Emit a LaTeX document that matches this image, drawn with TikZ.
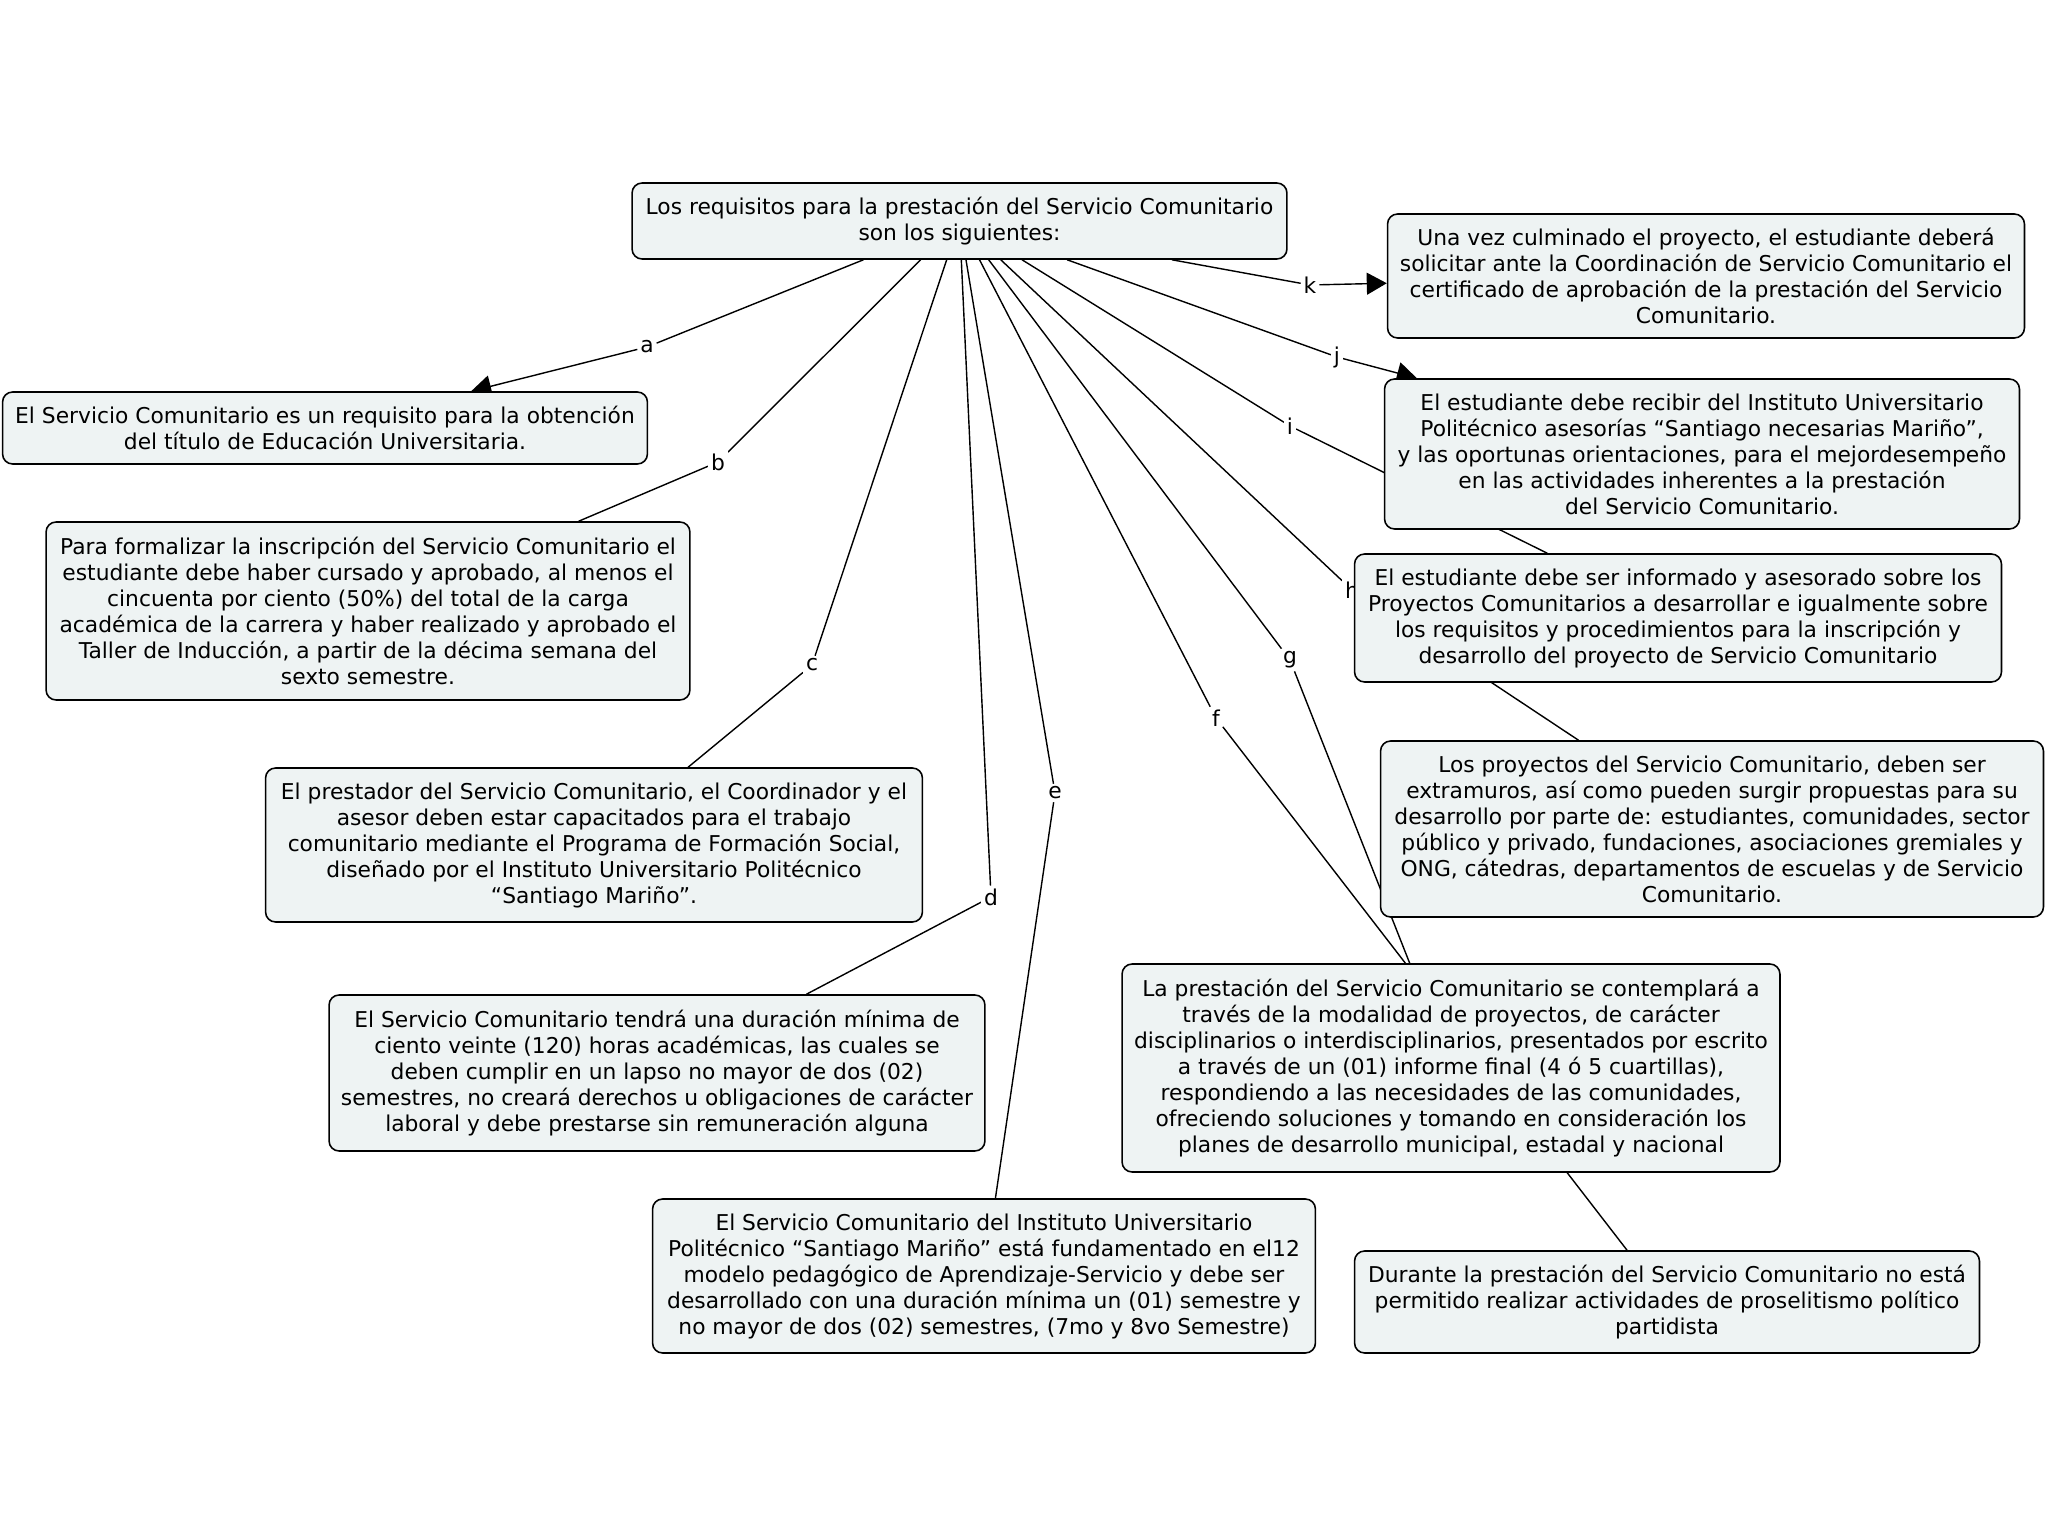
\documentclass[tikz,border=0pt]{standalone}
\usepackage{fontspec}
\setmainfont{DejaVu Sans}
\usepackage{xcolor}
\usepackage{tikz}
\usetikzlibrary{arrows.meta}
\pgfdeclarelayer{edgelayer}
\pgfsetlayers{edgelayer,main}
\definecolor{boxfill}{RGB}{238,243,243}
\tikzset{
  box/.style={draw=black, fill=boxfill, rounded corners=0.2cm, line width=0.9pt,
    align=center, inner sep=2pt, font=\fontsize{12.4pt}{14.8pt}\selectfont},
  lbl/.style={fill=white, inner sep=1.5pt, font=\fontsize{12.4pt}{14.8pt}\selectfont},
  link/.style={line width=0.8pt},
  arr/.style={line width=0.8pt, -{Triangle[length=0.4cm, width=0.44cm]}}
}

\begin{document}
\begin{tikzpicture}[x=0.02cm, y=-0.02cm]
            % labels first, so the boxes can hide them
            \node[lbl] (la) at (647,347) {a};
            \node[lbl] (lb) at (718,462) {b};
            \node[lbl] (lc) at (812,665) {c};
            \node[lbl] (ld) at (991,897) {d};
            \node[lbl] (le) at (1055,793) {e};
            \node[lbl] (lf) at (1216,718) {f};
            \node[lbl] (lg) at (1290,660) {g};
            \node[lbl] (lh) at (1352,590) {h};
            \node[lbl] (li) at (1290,426) {i};
            \node[lbl] (lj) at (1337,357) {j};
            \node[lbl] (lk) at (1310,285) {k};

            % root
            \node[box, minimum width=13.1cm, minimum height=1.52cm] (raiz) at (959.5,221)
                {Los requisitos para la prestación del Servicio Comunitario\\son los siguientes:};

            % left column
            \node[box, minimum width=12.9cm, minimum height=1.44cm] (titulo) at (325,428)
                {El Servicio Comunitario es un requisito para la obtención\\del título de Educación Universitaria.};
            \node[box, minimum width=12.88cm, minimum height=3.56cm] (inscripcion) at (368,611)
                {Para formalizar la inscripción del Servicio Comunitario el\\estudiante debe haber cursado y aprobado, al menos el\\cincuenta por ciento (50\%) del total de la carga\\académica de la carrera y haber realizado y aprobado el\\Taller de Inducción, a partir de la décima semana del\\sexto semestre.};
            \node[box, minimum width=13.14cm, minimum height=3.08cm] (prestador) at (594,845)
                {El prestador del Servicio Comunitario, el Coordinador y el\\asesor deben estar capacitados para el trabajo\\comunitario mediante el Programa de Formación Social,\\diseñado por el Instituto Universitario Politécnico\\“Santiago Mariño”.};
            \node[box, minimum width=13.12cm, minimum height=3.12cm] (duracion) at (657,1073)
                {El Servicio Comunitario tendrá una duración mínima de\\ciento veinte (120) horas académicas, las cuales se\\deben cumplir en un lapso no mayor de dos (02)\\semestres, no creará derechos u obligaciones de carácter\\laboral y debe prestarse sin remuneración alguna};
            \node[box, minimum width=13.26cm, minimum height=3.08cm] (modelo) at (984,1276)
                {El Servicio Comunitario del Instituto Universitario\\Politécnico “Santiago Mariño” está fundamentado en el12\\modelo pedagógico de Aprendizaje-Servicio y debe ser\\desarrollado con una duración mínima un (01) semestre y\\no mayor de dos (02) semestres, (7mo y 8vo Semestre)};

            % right column
            \node[box, minimum width=12.74cm, minimum height=2.48cm] (certificado) at (1706,276)
                {Una vez culminado el proyecto, el estudiante deberá\\solicitar ante la Coordinación de Servicio Comunitario el\\certificado de aprobación de la prestación del Servicio\\Comunitario.};
            \node[box, minimum width=12.7cm, minimum height=3.0cm] (asesorias) at (1702,454)
                {El estudiante debe recibir del Instituto Universitario\\Politécnico asesorías “Santiago necesarias Mariño”,\\y las oportunas orientaciones, para el mejordesempeño\\en las actividades inherentes a la prestación\\del Servicio Comunitario.};
            \node[box, minimum width=12.94cm, minimum height=2.56cm] (informado) at (1678,618)
                {El estudiante debe ser informado y asesorado sobre los\\Proyectos Comunitarios a desarrollar e igualmente sobre\\los requisitos y procedimientos para la inscripción y\\desarrollo del proyecto de Servicio Comunitario};
            \node[box, minimum width=13.26cm, minimum height=3.52cm] (proyectos) at (1712,829)
                {Los proyectos del Servicio Comunitario, deben ser\\extramuros, así como pueden surgir propuestas para su\\desarrollo por parte de: estudiantes, comunidades, sector\\público y privado, fundaciones, asociaciones gremiales y\\ONG, cátedras, departamentos de escuelas y de Servicio\\Comunitario.};
            \node[box, minimum width=13.16cm, minimum height=4.16cm] (modalidad) at (1451,1068)
                {La prestación del Servicio Comunitario se contemplará a\\través de la modalidad de proyectos, de carácter\\disciplinarios o interdisciplinarios, presentados por escrito\\a través de un (01) informe final (4 ó 5 cuartillas),\\respondiendo a las necesidades de las comunidades,\\ofreciendo soluciones y tomando en consideración los\\planes de desarrollo municipal, estadal y nacional};
            \node[box, minimum width=12.5cm, minimum height=2.04cm] (proselitismo) at (1667,1302)
                {Durante la prestación del Servicio Comunitario no está\\permitido realizar actividades de proselitismo político\\partidista};

            % connectors, under the boxes
            \begin{pgfonlayer}{edgelayer}
            \fill[white] (0,0) rectangle (2048,1540);
            \draw[link] (raiz) -- (la);  \draw[arr] (la) -- (titulo);
            \draw[link] (raiz) -- (lb);  \draw[link] (lb) -- (inscripcion);
            \draw[link] (raiz) -- (lc);  \draw[link] (lc) -- (prestador);
            \draw[link] (raiz) -- (ld);  \draw[link] (ld) -- (duracion);
            \draw[link] (raiz) -- (le);  \draw[link] (le) -- (modelo);
            \draw[link] (raiz) -- (lf);  \draw[link] (lf) -- (proselitismo);
            \draw[link] (raiz) -- (lg);  \draw[link] (lg) -- (modalidad);
            \draw[link] (raiz) -- (lh);  \draw[link] (lh) -- (proyectos);
            \draw[link] (raiz) -- (li);  \draw[link] (li) -- (informado);
            \draw[link] (raiz) -- (lj);  \draw[arr] (lj) -- (asesorias);
            \draw[link] (raiz) -- (lk);  \draw[arr] (lk) -- (certificado);
            \end{pgfonlayer}
            \useasboundingbox (0,0) rectangle (2048,1540);
        \end{tikzpicture}
\end{document}
